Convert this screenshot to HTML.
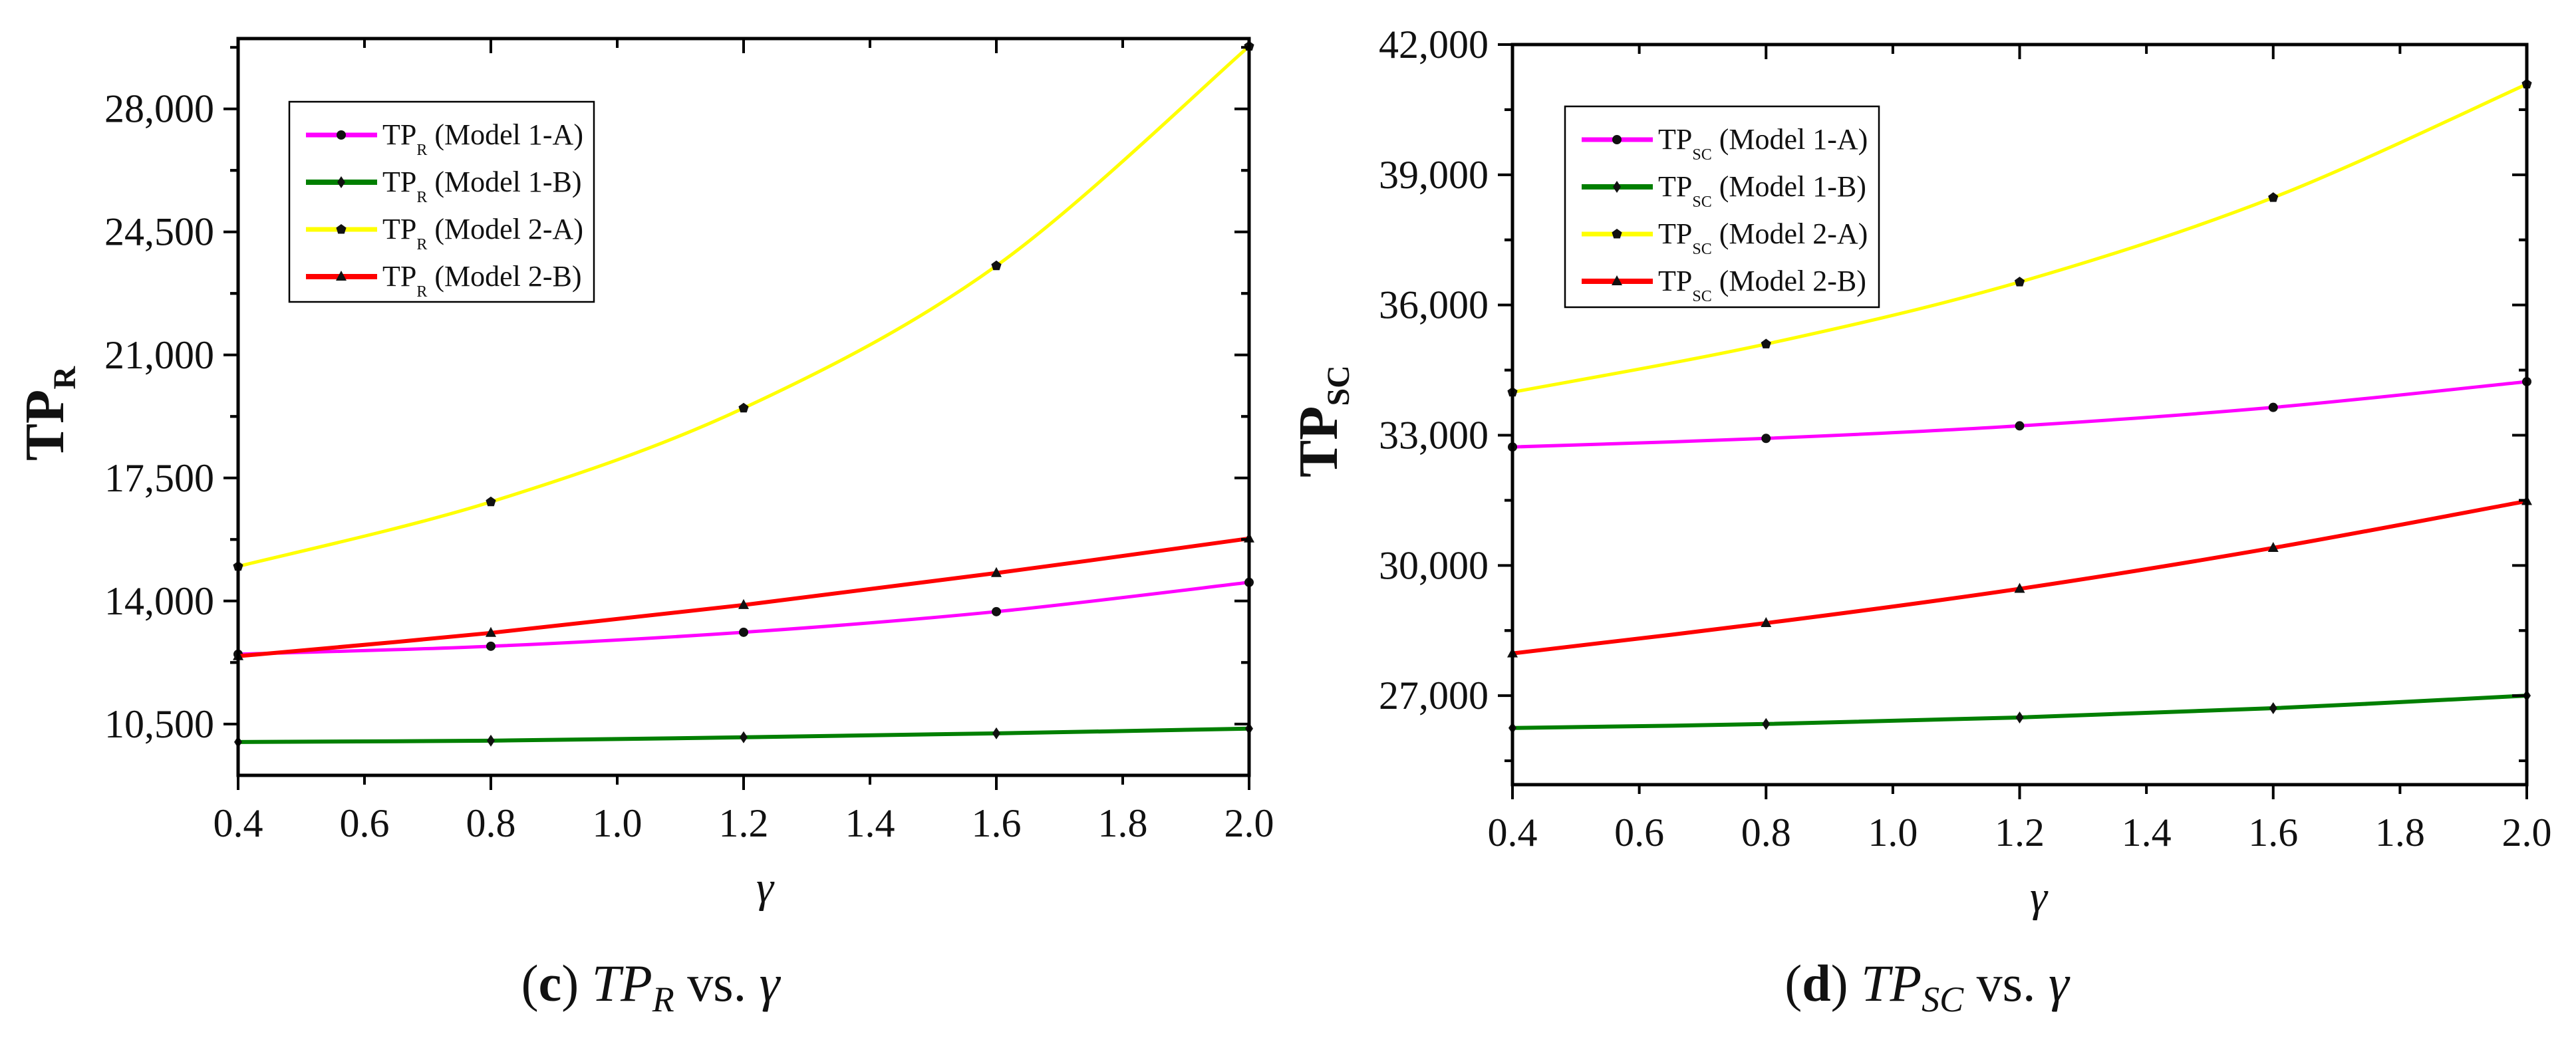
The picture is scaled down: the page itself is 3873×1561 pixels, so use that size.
<!DOCTYPE html>
<html><head><meta charset="utf-8">
<style>
html,body{margin:0;padding:0;background:#fff;}
svg{display:block;font-family:"Liberation Serif",serif;}
</style></head>
<body>
<svg id="chart" width="3873" height="1561" viewBox="0 0 3873 1561" xmlns="http://www.w3.org/2000/svg"></svg>
<script>
const xValues = [0.4, 0.8, 1.2, 1.6, 2.0];
const xTicks = [0.4, 0.6, 0.8, 1.0, 1.2, 1.4, 1.6, 1.8, 2.0];
const seriesNames = ["Model 1-A", "Model 1-B", "Model 2-A", "Model 2-B"];
const leftModel1A = [12486, 12713, 13110, 13697, 14530];
const leftModel1B = [9989, 10027, 10122, 10235, 10368];
const leftModel2A = [14984, 16819, 19487, 23535, 29780];
const leftModel2B = [12430, 13092, 13886, 14795, 15778];
const leftYTicks = [10500, 14000, 17500, 21000, 24500, 28000];
const rightModel1A = [32729, 32927, 33216, 33641, 34234];
const rightModel1B = [26255, 26347, 26498, 26711, 27000];
const rightModel2A = [33991, 35100, 36529, 38474, 41088];
const rightModel2B = [27973, 28672, 29462, 30404, 31483];
const rightYTicks = [27000, 30000, 33000, 36000, 39000, 42000];

const NS = "http://www.w3.org/2000/svg";
const svg = document.getElementById("chart");
function mk(tag, attrs, parent){ const e=document.createElementNS(NS,tag); for(const k in attrs) e.setAttribute(k,attrs[k]); (parent||svg).appendChild(e); return e; }
const colors = ["#ff00ff", "#007f00", "#ffff00", "#ff0000"];
const widths = [5, 6, 5, 6];
const markers = ["circle", "diamond", "pentagon", "triangle"];

function marker(g, type, x, y){
  let m;
  if(type==="circle") m = mk("circle",{cx:x,cy:y,r:7,fill:"#111"},g);
  else if(type==="diamond") m = mk("polygon",{points:`${x},${y-9} ${x+6},${y} ${x},${y+9} ${x-6},${y}`,fill:"#111"},g);
  else if(type==="pentagon"){ let p=[]; for(let i=0;i<5;i++){const a=-Math.PI/2+i*2*Math.PI/5;p.push((x+8*Math.cos(a))+","+(y+8*Math.sin(a)));} m = mk("polygon",{points:p.join(" "),fill:"#111"},g);}
  else m = mk("polygon",{points:`${x},${y-9} ${x+8},${y+6} ${x-8},${y+6}`,fill:"#111"},g);
  
  
}
function smoothPath(pts){
  let d = `M${pts[0][0]},${pts[0][1]}`;
  for(let i=0;i<pts.length-1;i++){
    const p0=pts[Math.max(0,i-1)], p1=pts[i], p2=pts[i+1], p3=pts[Math.min(pts.length-1,i+2)];
    const c1=[p1[0]+(p2[0]-p0[0])/6, p1[1]+(p2[1]-p0[1])/6];
    const c2=[p2[0]-(p3[0]-p1[0])/6, p2[1]-(p3[1]-p1[1])/6];
    d += ` C${c1[0]},${c1[1]} ${c2[0]},${c2[1]} ${p2[0]},${p2[1]}`;
  }
  return d;
}

function drawPanel(cfg){
  const {id,L,R,T,B,ymin,ymax,yTicks,minorStep,series,sub,titleX,legend,capX,gammaX,capLetter} = cfg;
  const g = mk("g",{});
  
  
  const sx = v => L + (v-0.4)/(2.0-0.4)*(R-L);
  const sy = v => B - (v-ymin)/(ymax-ymin)*(B-T);
  series.forEach((vals,si)=>{
    const pts = xValues.map((x,i)=>[sx(x), sy(vals[i])]);
    const p = mk("path",{d:smoothPath(pts),fill:"none",stroke:colors[si],"stroke-width":widths[si]},g);
    
    
    pts.forEach(pt=>marker(g,markers[si],pt[0],pt[1]));
  });
  const fr = mk("rect",{x:L,y:T,width:R-L,height:B-T,fill:"none",stroke:"#000","stroke-width":5},g);
  
  
  xTicks.forEach((t,i)=>{
    const x=sx(t);
    const major = i%2===0;
    const len = major?22:14;
    mk("line",{x1:x,y1:B,x2:x,y2:B+len,stroke:"#000","stroke-width":4},g);
    mk("line",{x1:x,y1:T,x2:x,y2:T+len,stroke:"#000","stroke-width":4},g);
    const tx = mk("text",{x:x,y:B+92,"font-size":60,"text-anchor":"middle",fill:"#111"},g);
    tx.textContent = t.toFixed(1);
    
    
  });
  yTicks.forEach(t=>{
    const y=sy(t);
    mk("line",{x1:L-22,y1:y,x2:L,y2:y,stroke:"#000","stroke-width":4},g);
    mk("line",{x1:R-22,y1:y,x2:R,y2:y,stroke:"#000","stroke-width":4},g);
    const tx = mk("text",{x:L-36,y:y+20,"font-size":60,"text-anchor":"end",fill:"#111"},g);
    tx.textContent = t.toLocaleString("en-US");
    
    
    for(const m of [t-minorStep, t+minorStep]){
      if(m>ymin && m<ymax && !yTicks.includes(m)){
        const ym=sy(m);
        mk("line",{x1:L-12,y1:ym,x2:L,y2:ym,stroke:"#000","stroke-width":4},g);
        mk("line",{x1:R-12,y1:ym,x2:R,y2:ym,stroke:"#000","stroke-width":4},g);
      }
    }
  });
  const yt = mk("text",{transform:`translate(${titleX},${(T+B)/2+10}) rotate(-90)`,"font-size":84,"font-weight":"bold","text-anchor":"middle",fill:"#111"},g);
  yt.innerHTML = `TP<tspan font-size="48" dy="18">${sub}</tspan>`;
  
  
  const xt = mk("text",{x:gammaX,y:B+190,"font-size":66,"font-style":"italic","text-anchor":"middle",fill:"#111"},g);
  xt.textContent = "γ";
  
  
  const lg = mk("g",{},g);
  
  
  mk("rect",{x:legend.x,y:legend.y,width:legend.w,height:legend.h,fill:"#fff",stroke:"#000","stroke-width":2.5},lg);
  seriesNames.forEach((n,i)=>{
    const ey = legend.y + 50 + i*71;
    const e = mk("g",{},lg);
    
    
    mk("line",{x1:legend.x+25,y1:ey,x2:legend.x+132,y2:ey,stroke:colors[i],"stroke-width":widths[i]+2},e);
    marker(e,markers[i],legend.x+78,ey);
    const t = mk("text",{x:legend.x+140,y:ey+14,"font-size":44,fill:"#111"},e);
    t.innerHTML = `TP<tspan font-size="24" dy="16">${sub}</tspan><tspan dy="-16"> (${n})</tspan>`;
  });
  const cp = mk("text",{x:capX,y:1505,"font-size":78,"text-anchor":"middle",fill:"#111"},g);
  cp.innerHTML = `(<tspan font-weight="bold">${capLetter}</tspan>) <tspan font-style="italic">TP</tspan><tspan font-style="italic" font-size="54" dy="16">${sub}</tspan><tspan dy="-16"> vs. </tspan><tspan font-style="italic">γ</tspan>`;
  
  
}

drawPanel({id:"panel-tp-r",L:358,R:1878,T:58,B:1166,ymin:9040,ymax:30000,yTicks:leftYTicks,minorStep:1750,
  series:[leftModel1A,leftModel1B,leftModel2A,leftModel2B],sub:"R",titleX:95,
  legend:{x:435,y:153,w:458,h:301},capX:978,gammaX:1150,capLetter:"c"});
drawPanel({id:"panel-tp-sc",L:2274,R:3799,T:67,B:1180,ymin:24950,ymax:42000,yTicks:rightYTicks,minorStep:1500,
  series:[rightModel1A,rightModel1B,rightModel2A,rightModel2B],sub:"SC",titleX:2010,
  legend:{x:2353,y:160,w:472,h:302},capX:2897,gammaX:3065,capLetter:"d"});
</script>
</body></html>
